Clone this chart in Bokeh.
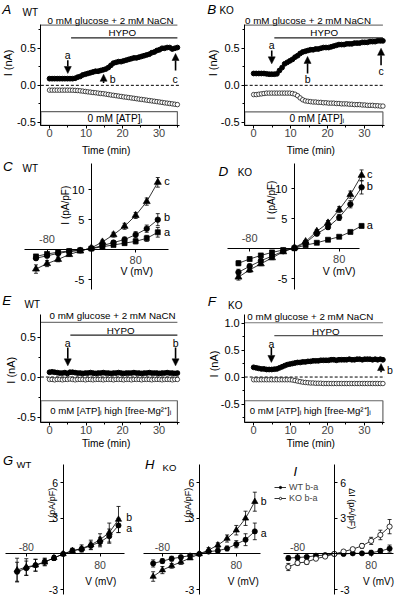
from math import pi
from bokeh.plotting import figure
from bokeh.models import (LinearAxis, FixedTicker, Label, Arrow,
                          NormalHead, Whisker, TeeHead, ColumnDataSource, Legend, LegendItem)
from bokeh.layouts import column, row
from bokeh.embed import file_html
from bokeh.resources import INLINE
from bokeh.core.properties import value

FONT = "Liberation Sans"

# ---------------- data ----------------
T = [0.0, 0.7, 1.4, 2.1, 2.8, 3.5, 4.2, 4.9, 5.6, 6.3,
     7.0, 7.7, 8.4, 9.1, 9.8, 10.5, 11.2, 11.9, 12.6, 13.3,
     14.0, 14.7, 15.4, 16.1, 16.8, 17.5, 18.2, 18.9, 19.6, 20.3,
     21.0, 21.7, 22.4, 23.1, 23.8, 24.5, 25.2, 25.9, 26.6, 27.3,
     28.0, 28.7, 29.4, 30.1, 30.8, 31.5, 32.2, 32.9, 33.6, 34.3, 35.0]

A_on = [0.09, 0.09, 0.09, 0.09, 0.09, 0.09, 0.09, 0.09, 0.09, 0.09,
        0.095, 0.11, 0.12, 0.14, 0.15, 0.16, 0.17, 0.18, 0.19, 0.19,
        0.20, 0.21, 0.22, 0.24, 0.27, 0.30, 0.31, 0.32, 0.32, 0.33,
        0.34, 0.35, 0.36, 0.37, 0.37, 0.38, 0.39, 0.40, 0.41, 0.42,
        0.44, 0.45, 0.47, 0.48, 0.50, 0.50, 0.51, 0.51, 0.49, 0.50, 0.51]
A_off = [-0.065, -0.065, -0.065, -0.065, -0.065, -0.065, -0.065, -0.065, -0.065, -0.066,
         -0.068, -0.07, -0.074, -0.078, -0.083, -0.088, -0.092, -0.097, -0.10, -0.105,
         -0.11, -0.113, -0.118, -0.124, -0.13, -0.135, -0.14, -0.145, -0.15, -0.156,
         -0.16, -0.165, -0.17, -0.175, -0.18, -0.186, -0.19, -0.195, -0.20, -0.205,
         -0.21, -0.215, -0.22, -0.225, -0.23, -0.236, -0.24, -0.245, -0.25, -0.255, -0.26]

B_on = [0.16, 0.16, 0.16, 0.16, 0.16, 0.155, 0.15, 0.15, 0.15, 0.155,
        0.20, 0.24, 0.29, 0.31, 0.33, 0.35, 0.38, 0.40, 0.43, 0.45,
        0.46, 0.47, 0.48, 0.48, 0.49, 0.49, 0.50, 0.51, 0.51, 0.51,
        0.52, 0.53, 0.54, 0.55, 0.55, 0.55, 0.56, 0.56, 0.56, 0.57,
        0.57, 0.57, 0.58, 0.58, 0.58, 0.59, 0.59, 0.59, 0.60, 0.60, 0.60]
B_off = [-0.125, -0.125, -0.12, -0.115, -0.11, -0.105, -0.105, -0.105, -0.105, -0.105,
         -0.105, -0.105, -0.105, -0.105, -0.105, -0.11, -0.12, -0.14, -0.17, -0.195,
         -0.21, -0.215, -0.22, -0.225, -0.225, -0.23, -0.23, -0.235, -0.235, -0.24,
         -0.24, -0.24, -0.245, -0.245, -0.25, -0.25, -0.25, -0.255, -0.255, -0.26,
         -0.26, -0.26, -0.265, -0.265, -0.27, -0.27, -0.27, -0.275, -0.275, -0.28, -0.28]

E_on = [0.06, 0.065, 0.06, 0.055, 0.05, 0.05, 0.055, 0.045, 0.06, 0.06,
        0.055, 0.05, 0.05, 0.045, 0.05, 0.05, 0.055, 0.05, 0.045, 0.05,
        0.05, 0.055, 0.05, 0.05, 0.045, 0.05, 0.05, 0.055, 0.05, 0.045,
        0.05, 0.05, 0.05, 0.055, 0.05, 0.05, 0.045, 0.05, 0.05, 0.055,
        0.05, 0.05, 0.05, 0.045, 0.05, 0.05, 0.055, 0.05, 0.05, 0.045, 0.05]
E_off = [-0.03, -0.03, -0.035, -0.03, -0.03, -0.035, -0.03, -0.03, -0.025, -0.03,
         -0.035, -0.03, -0.03, -0.03, -0.035, -0.03, -0.03, -0.035, -0.03, -0.03,
         -0.03, -0.035, -0.03, -0.03, -0.03, -0.035, -0.03, -0.03, -0.03, -0.035,
         -0.03, -0.03, -0.035, -0.03, -0.03, -0.03, -0.035, -0.03, -0.03, -0.03,
         -0.035, -0.03, -0.03, -0.03, -0.035, -0.03, -0.03, -0.03, -0.035, -0.03, -0.03]

F_on = [0.18, 0.17, 0.16, 0.15, 0.15, 0.14, 0.14, 0.14, 0.145, 0.15,
        0.17, 0.19, 0.21, 0.23, 0.24, 0.25, 0.26, 0.27, 0.27, 0.28,
        0.28, 0.29, 0.29, 0.30, 0.30, 0.30, 0.31, 0.31, 0.31, 0.31,
        0.32, 0.32, 0.31, 0.32, 0.32, 0.32, 0.32, 0.33, 0.32, 0.32,
        0.33, 0.33, 0.32, 0.33, 0.33, 0.33, 0.32, 0.33, 0.32, 0.33, 0.32]
F_off = [-0.05, -0.05, -0.05, -0.05, -0.05, -0.05, -0.05, -0.05, -0.05, -0.05,
         -0.05, -0.05, -0.05, -0.05, -0.05, -0.055, -0.065, -0.075, -0.085, -0.095,
         -0.10, -0.105, -0.11, -0.11, -0.115, -0.115, -0.115, -0.12, -0.12, -0.12,
         -0.12, -0.12, -0.12, -0.12, -0.12, -0.12, -0.12, -0.12, -0.12, -0.12,
         -0.12, -0.12, -0.12, -0.12, -0.12, -0.12, -0.12, -0.12, -0.12, -0.12, -0.12]

V = [-100, -80, -60, -40, -20, 0, 20, 40, 60, 80, 100, 120]

C_a = [-1.1, -0.7, -0.4, -0.2, -0.1, 0.2, 0.5, 0.8, 1.1, 1.4, 1.9, 2.9]
C_b = [-1.4, -1.0, -0.6, -0.3, -0.1, 0.2, 0.7, 1.2, 1.7, 2.5, 3.5, 5.0]
C_c = [-3.2, -2.3, -1.6, -0.8, -0.2, 0.3, 1.3, 2.5, 3.9, 5.7, 8.0, 11.2]
C_a_err = [0.3, 0.2, 0.2, 0.1, 0.1, 0.1, 0.1, 0.2, 0.3, 0.4, 0.5, 0.8]
C_b_err = [0.3, 0.3, 0.2, 0.2, 0.1, 0.1, 0.2, 0.3, 0.4, 0.5, 0.6, 1.0]
C_c_err = [0.7, 0.5, 0.4, 0.3, 0.2, 0.2, 0.3, 0.4, 0.5, 0.5, 0.6, 0.8]

D_a = [-2.4, -1.7, -1.1, -0.6, -0.2, 0.1, 0.6, 1.0, 1.5, 2.0, 2.8, 3.8]
D_b = [-3.9, -2.9, -2.0, -1.2, -0.4, 0.1, 1.0, 2.5, 3.6, 5.2, 7.4, 10.2]
D_c = [-4.7, -3.5, -2.5, -1.5, -0.5, 0.2, 1.2, 2.9, 4.3, 6.5, 9.0, 12.2]
D_a_err = [0.4, 0.3, 0.2, 0.2, 0.1, 0.1, 0.1, 0.1, 0.2, 0.2, 0.2, 0.3]
D_b_err = [0.5, 0.4, 0.3, 0.2, 0.2, 0.1, 0.2, 0.3, 0.4, 0.5, 0.6, 1.1]
D_c_err = [0.5, 0.4, 0.3, 0.3, 0.2, 0.1, 0.2, 0.3, 0.4, 0.5, 0.6, 0.9]

G_a = [-1.5, -1.2, -0.95, -0.65, -0.35, 0.0, 0.27, 0.4, 0.7, 1.0, 1.5, 2.4]
G_b = [-1.36, -1.1, -0.95, -0.7, -0.33, 0.0, 0.27, 0.46, 0.76, 1.2, 1.8, 2.9]
G_a_err = [0.8, 0.6, 0.5, 0.3, 0.2, 0.1, 0.2, 0.2, 0.3, 0.4, 0.6, 0.6]
G_b_err = [1.0, 0.7, 0.5, 0.3, 0.2, 0.1, 0.2, 0.3, 0.4, 0.5, 0.8, 1.1]

H_a = [-0.8, -0.6, -0.4, -0.27, -0.14, 0.0, 0.2, 0.27, 0.46, 0.82, 1.2, 1.9]
H_b = [-1.9, -1.36, -1.0, -0.68, -0.35, 0.0, 0.33, 0.74, 1.3, 2.0, 3.0, 4.4]
H_a_err = [0.3, 0.2, 0.2, 0.1, 0.1, 0.1, 0.1, 0.2, 0.2, 0.3, 0.5, 0.7]
H_b_err = [0.4, 0.3, 0.2, 0.2, 0.1, 0.1, 0.2, 0.2, 0.3, 0.4, 0.6, 0.8]

I_wt = [-0.35, -0.3, -0.25, -0.15, -0.1, 0.0, 0.0, 0.05, 0.05, 0.1, 0.25, 0.45]
I_ko = [-1.1, -0.76, -0.68, -0.4, -0.22, 0.0, 0.2, 0.4, 0.68, 1.1, 1.6, 2.3]
I_wt_err = [0.2, 0.2, 0.1, 0.1, 0.1, 0.1, 0.1, 0.1, 0.1, 0.2, 0.2, 0.3]
I_ko_err = [0.3, 0.2, 0.2, 0.1, 0.1, 0.1, 0.1, 0.1, 0.2, 0.3, 0.4, 0.6]

TIME_TICKS = [0, 10, 20, 30]
TIME_MINOR = [5, 15, 25, 35]


# ---------------- helpers ----------------
def new_panel(box, W, H, X0, kx, Y0, ky):
    l, t, r, b = box
    p = figure(width=W, height=H, title=None,
               x_range=((l - X0) / kx, (r - X0) / kx),
               y_range=((Y0 - b) / ky, (Y0 - t) / ky),
               x_axis_type=None, y_axis_type=None,
               output_backend="svg", toolbar_location=None,
               min_border=0, min_border_left=0, min_border_right=0,
               min_border_top=0, min_border_bottom=0,
               outline_line_color=None)
    p.background_fill_color = "white"
    p.border_fill_color = "white"

    def D(rx, ry):
        return (rx - X0) / kx, (Y0 - ry) / ky
    return p, D


def lab(p, x, y, s, size, align="center", baseline="middle", style="normal", angle=0.0,
        x_offset=0, y_offset=0):
    p.add_layout(Label(x=x, y=y, text=s, text_font=FONT, text_font_size=f"{size}px",
                       text_align=align, text_baseline=baseline, text_font_style=style,
                       angle=angle, text_color="black", x_offset=x_offset, y_offset=y_offset))


def axis(p, side, loc, bounds, ticks, minor=None, fmt="%g", hide=(),
         tick_out=3, standoff=2, fsize=10, line=True):
    """Axis line + ticks; tick labels of vertical axes are drawn as Labels."""
    vertical = side in ("left", "right")
    ax = LinearAxis(fixed_location=loc, bounds=bounds,
                    ticker=FixedTicker(ticks=ticks, minor_ticks=minor or []),
                    major_tick_out=tick_out, major_tick_in=0,
                    minor_tick_out=2, minor_tick_in=0,
                    major_label_standoff=standoff,
                    major_label_text_font=FONT,
                    major_label_text_font_size=f"{fsize}px",
                    axis_line_color="black" if line else None, axis_line_width=1,
                    major_tick_line_color="black", minor_tick_line_color="black")
    over = {}
    for t in ticks:
        if vertical or t in hide:
            over[t] = ""
        else:
            over[t] = fmt % t
    ax.major_label_overrides = over
    p.add_layout(ax, side)
    if vertical:
        off = tick_out + standoff
        for t in ticks:
            if t in hide:
                continue
            if side == "left":
                lab(p, loc, t, fmt % t, fsize, align="right", x_offset=-off)
            else:
                lab(p, loc, t, fmt % t, fsize, align="left", x_offset=off)
    return ax


def arrow(p, x, y0, y1):
    p.add_layout(Arrow(end=NormalHead(size=7, fill_color="black", line_color="black", line_width=0.5),
                       x_start=x, y_start=y0, x_end=x, y_end=y1,
                       line_width=1.6, line_color="black"))


def time_panel(box, W, H, X0, kx, Y0, ky, on, off, cfg):
    p, D = new_panel(box, W, H, X0, kx, Y0, ky)
    ya = D(cfg["yaxis_rx"], 0)[0]
    ybot = D(0, cfg["xaxis_ry"])[1]
    ytop = D(0, cfg["ytop_ry"])[1]
    t_end = 35.5
    axis(p, "left", ya, (ybot, ytop), cfg["yticks"], cfg["yminor"], fmt="%.1f",
         tick_out=3, standoff=2, fsize=11)
    axis(p, "below", ybot, (ya, t_end), TIME_TICKS, TIME_MINOR, fmt="%d",
         tick_out=3, standoff=1, fsize=11)
    # zero line
    p.segment(x0=[ya], x1=[t_end], y0=[0], y1=[0], line_dash="3 2",
              line_color="black", line_width=1)
    # condition bars
    gy = D(0, cfg["glc_ry"])[1]
    p.segment(x0=[ya], x1=[35], y0=[gy], y1=[gy], line_color="#777777", line_width=1.2)
    gx, gty = D(cfg["glc_txt"][0], cfg["glc_txt"][1])
    lab(p, gx, gty, "0 mM glucose + 2 mM NaCN", 9.8, align="left")
    hy = D(0, cfg["hypo_ry"])[1]
    p.segment(x0=[cfg["hypo_t0"]], x1=[35], y0=[hy], y1=[hy],
              line_color=cfg.get("hypo_color", "#222222"), line_width=1.2)
    hx, hty = D(*cfg["hypo_txt"])
    lab(p, hx, hty, "HYPO", 9.8)
    # solution box
    bt = D(0, cfg["box_ry"])[1]
    p.quad(left=[ya], right=[35], bottom=[ybot], top=[bt], fill_color=None,
           line_color="#666666", line_width=1.2)
    ax_, ay_ = D(*cfg["atp_txt"])
    lab(p, ax_, ay_, cfg["atp"], cfg.get("atp_size", 10.2))
    # data
    p.scatter(T, off, marker="circle", size=4.5, fill_color="white",
              line_color="black", line_width=0.7)
    p.scatter(T, on, marker="circle", size=4.8, fill_color="black", line_color="black")
    for (x, y0, y1) in cfg["arrows"]:
        arrow(p, x, y0, y1)
    for (s, x, y) in cfg["alabels"]:
        lab(p, x, y, s, 10.5)
    # axis titles
    lx, ly = D(*cfg["ylab"])
    lab(p, lx, ly, "I (nA)", 11, angle=pi / 2)
    tx, ty = D(*cfg["tlab"])
    lab(p, tx, ty, "Time (min)", 10.2)
    # panel letters
    x, y = D(*cfg["letter_pos"])
    lab(p, x, y, cfg["letter"], 13.5, align="left", baseline="top", style="italic")
    x, y = D(*cfg["geno_pos"])
    lab(p, x, y, cfg["geno"], 10, align="left", baseline="top")
    return p


def add_series(p, ys, errs, marker, size, fill="black", lw=0.7):
    lo = [y - e for y, e in zip(ys, errs)]
    hi = [y + e for y, e in zip(ys, errs)]
    src = ColumnDataSource(dict(x=V, lo=lo, hi=hi))
    p.add_layout(Whisker(source=src, base="x", lower="lo", upper="hi", dimension="height",
                         line_color="black", line_width=0.8,
                         upper_head=TeeHead(size=4, line_color="black", line_width=0.8),
                         lower_head=TeeHead(size=4, line_color="black", line_width=0.8)))
    ln = p.line(V, ys, line_color="black", line_width=0.8)
    sc = p.scatter(V, ys, marker=marker, size=size, fill_color=fill,
                   line_color="black", line_width=lw)
    return ln, sc


def iv_axes(p, xb, yb, yticks, yside="left", above_standoff=7, below_standoff=4,
            y_standoff=4, fsize=10):
    axis(p, "below", 0, xb, [-80, 80], fmt="%d", hide=(-80,), tick_out=3,
         standoff=below_standoff, fsize=fsize)
    axis(p, "above", 0, xb, [-80], fmt="%d", tick_out=0, standoff=above_standoff,
         fsize=fsize, line=False)
    axis(p, yside, 0, yb, yticks, fmt="%d", tick_out=3, standoff=y_standoff, fsize=fsize)


# ---------------- panels A, B ----------------
pA = time_panel((0, 0, 207, 161), 199, 157, 51, 3.8, 87, 76, A_on, A_off, dict(
    yaxis_rx=42, xaxis_ry=128, ytop_ry=25, yticks=[-0.5, 0.0, 0.5], yminor=[-0.25, 0.25, 0.75],
    glc_ry=25.3, glc_txt=(49, 20.7), hypo_ry=38.3, hypo_t0=5.9, hypo_txt=(126.7, 33.3),
    box_ry=114, atp="0 mM [ATP]\u1d62", atp_txt=(119, 120.5),
    arrows=[(5, 0.34, 0.16), (14.8, 0.03, 0.15), (34.5, 0.2, 0.43)],
    alabels=[("a", 5, 0.41), ("b", 17.3, 0.09), ("c", 34.4, 0.09)],
    ylab=(8.3, 64), tlab=(109.9, 154), letter="A", letter_pos=(1.7, 1.7),
    geno="WT", geno_pos=(23, 6.7)))

pB = time_panel((207, 0, 416, 161), 201, 157, 263.3, 3.84, 87, 76, B_on, B_off, dict(
    yaxis_rx=254, xaxis_ry=128, ytop_ry=25, yticks=[-0.5, 0.0, 0.5], yminor=[-0.25, 0.25, 0.75],
    glc_ry=25.3, glc_txt=(254.3, 20.7), hypo_ry=38.3, hypo_t0=5.6, hypo_txt=(336.7, 33.3),
    box_ry=114.3, atp="0 mM [ATP]\u1d62", atp_txt=(329, 121),
    arrows=[(4.9, 0.47, 0.29), (14.6, 0.16, 0.39), (34.5, 0.27, 0.5)],
    alabels=[("a", 4.9, 0.54), ("b", 14.6, 0.08), ("c", 34.5, 0.19)],
    ylab=(220.8, 64), tlab=(322.8, 154), letter="B", letter_pos=(215, 2),
    geno="KO", geno_pos=(227.7, 5)))

# ---------------- panels E, F ----------------
ATP_MG = "0 mM [ATP]\u1d62  high [free-Mg\u00b2\u207a]\u1d62"
pE = time_panel((0, 300, 207, 461), 199, 157, 51, 3.8, 386.7, 82, E_on, E_off, dict(
    yaxis_rx=42, xaxis_ry=433, ytop_ry=322.7, yticks=[-0.5, 0.0, 0.5], yminor=[-0.25, 0.25],
    glc_ry=330.7, glc_txt=(51, 324), hypo_ry=343.7, hypo_t0=5.7, hypo_txt=(125, 339.3),
    box_ry=411, atp=ATP_MG, atp_txt=(116, 420.7), atp_size=9.6,
    arrows=[(5, 0.37, 0.14), (34.5, 0.37, 0.14)],
    alabels=[("a", 5, 0.42), ("b", 34.5, 0.42)],
    ylab=(10.8, 379.7), tlab=(109.9, 455), letter="E", letter_pos=(1.7, 300.5),
    geno="WT", geno_pos=(25, 306.5)))

pF = time_panel((207, 300, 416, 461), 201, 157, 263.3, 3.84, 386.7, 55.4, F_on, F_off, dict(
    yaxis_rx=254, xaxis_ry=433, ytop_ry=322.7, yticks=[-0.5, 0.0, 0.5, 1.0],
    yminor=[-0.75, -0.25, 0.25, 0.75],
    glc_ry=331, glc_txt=(256.7, 324.3), hypo_ry=344.3, hypo_t0=5.6, hypo_txt=(338.3, 340),
    hypo_color="#555555",
    box_ry=411, atp=ATP_MG, atp_txt=(323.5, 420.7), atp_size=9.6,
    arrows=[(4.8, 0.54, 0.27), (34.5, 0.09, 0.25)],
    alabels=[("a", 4.8, 0.62), ("b", 36.9, 0.13)],
    ylab=(222.5, 373.3), tlab=(322.8, 455), letter="F", letter_pos=(215.7, 301.5),
    geno="KO", geno_pos=(236.7, 307.3)))

# ---------------- panels C, D ----------------
pC, DC = new_panel((0, 161, 207, 300), 199, 135, 94.5, 0.576, 256, 6.2)
iv_axes(pC, (-121, 139), (-6.6, 14.4), [-5, 5, 10], above_standoff=7, below_standoff=3,
        y_standoff=4, fsize=11)
add_series(pC, C_a, C_a_err, "square", 5)
add_series(pC, C_b, C_b_err, "circle", 5.5)
add_series(pC, C_c, C_c_err, "triangle", 7)
for s, y in (("c", 11.5), ("b", 5.4), ("a", 3.0)):
    lab(pC, 136.8, y, s, 11)
lab(pC, -46.5, 7.4, "I (pA/pF)", 10, angle=pi / 2)
lab(pC, 82, -3.6, "V (mV)", 10.5)
x, y = DC(2.7, 162.5); lab(pC, x, y, "C", 13.5, align="left", baseline="top", style="italic")
x, y = DC(23, 166.5); lab(pC, x, y, "WT", 10, align="left", baseline="top")

pD, DD = new_panel((207, 161, 416, 300), 201, 135, 305.7, 0.582, 255, 6.2)
iv_axes(pD, (-120, 116), (-6.7, 14.2), [-5, 5, 10], above_standoff=7, below_standoff=3,
        y_standoff=4, fsize=11)
add_series(pD, D_a, D_a_err, "square", 5)
add_series(pD, D_b, D_b_err, "circle", 5.5)
add_series(pD, D_c, D_c_err, "triangle", 7)
for s, y in (("c", 12.4), ("b", 10.4), ("a", 4.0)):
    lab(pD, 134.5, y, s, 11)
lab(pD, -41, 8.1, "I (pA/pF)", 10, angle=pi / 2)
lab(pD, 80, -3.76, "V (mV)", 10.5)
x, y = DD(226.7, 167.5); lab(pD, x, y, "D", 13.5, align="left", baseline="top", style="italic")
x, y = DD(246.7, 170.5); lab(pD, x, y, "KO", 10, align="left", baseline="top")

# ---------------- panels G, H, I ----------------
pG, DG = new_panel((0, 461, 140, 611), 135, 146, 65, 0.478, 568.3, 12.2)
iv_axes(pG, (-125, 132), (-3.4, 7.5), [-3, 3, 6], above_standoff=3, below_standoff=4,
        y_standoff=2, fsize=10.5)
add_series(pG, G_a, G_a_err, "circle", 5.2)
add_series(pG, G_b, G_b_err, "triangle", 6.2)
for s, y in (("b", 3.1), ("a", 2.2)):
    lab(pG, 143, y, s, 10.5)
lab(pG, -24.5, 4.1, "I (pA/pF)", 9, angle=pi / 2)
lab(pG, 81.6, -2.33, "V (mV)", 10)
x, y = DG(2.7, 465); lab(pG, x, y, "G", 13, align="left", baseline="top", style="italic")
x, y = DG(16.7, 471); lab(pG, x, y, "WT", 9.5, align="left", baseline="top")

pH, DH = new_panel((140, 461, 281, 611), 135, 146, 206.7, 0.4825, 568.3, 12.2)
iv_axes(pH, (-122, 132), (-3.4, 7.5), [-3, 3, 6], above_standoff=3, below_standoff=4,
        y_standoff=2, fsize=10.5)
add_series(pH, H_a, H_a_err, "circle", 5.2)
add_series(pH, H_b, H_b_err, "triangle", 6.2)
for s, y in (("b", 4.5), ("a", 1.8)):
    lab(pH, 139, y, s, 10.5)
lab(pH, -24.2, 4.1, "I (pA/pF)", 9, angle=pi / 2)
lab(pH, 95, -2.33, "V (mV)", 10)
x, y = DH(150, 469); lab(pH, x, y, "H", 13, align="left", baseline="top", style="italic")
x, y = DH(168.3, 474); lab(pH, x, y, "KO", 9.5, align="left", baseline="top")

pI, DI = new_panel((281, 461, 416, 611), 130, 146, 347.3, 0.478, 568.3, 12.2)
iv_axes(pI, (-110, 128), (-3.4, 7.5), [-3, 3, 6], yside="right", above_standoff=3,
        below_standoff=4, y_standoff=3, fsize=10.5)
l_wt, s_wt = add_series(pI, I_wt, I_wt_err, "circle", 5.2)
l_ko, s_ko = add_series(pI, I_ko, I_ko_err, "circle", 5.2, fill="white", lw=0.8)
lab(pI, 39, 3.8, "\u0394I (pA/pF)", 9, angle=-pi / 2)
lab(pI, 96, -2.33, "V (mV)", 10)
x, y = DI(305, 476); lab(pI, x, y, "I", 13, align="left", baseline="top", style="italic")
leg = Legend(items=[LegendItem(label=value("WT b-a"), renderers=[l_wt, s_wt]),
                    LegendItem(label=value("KO b-a"), renderers=[l_ko, s_ko])],
             location=(4, 92), orientation="vertical", padding=0, margin=0, spacing=1,
             glyph_width=12, glyph_height=6, label_height=6, label_standoff=3,
             label_text_font=FONT, label_text_font_size="9px",
             background_fill_alpha=0, border_line_alpha=0)
pI.add_layout(leg)

layout = column(row(pA, pB), row(pC, pD), row(pE, pF), row(pG, pH, pI))
open("out.html", "w").write(file_html(layout, INLINE))
